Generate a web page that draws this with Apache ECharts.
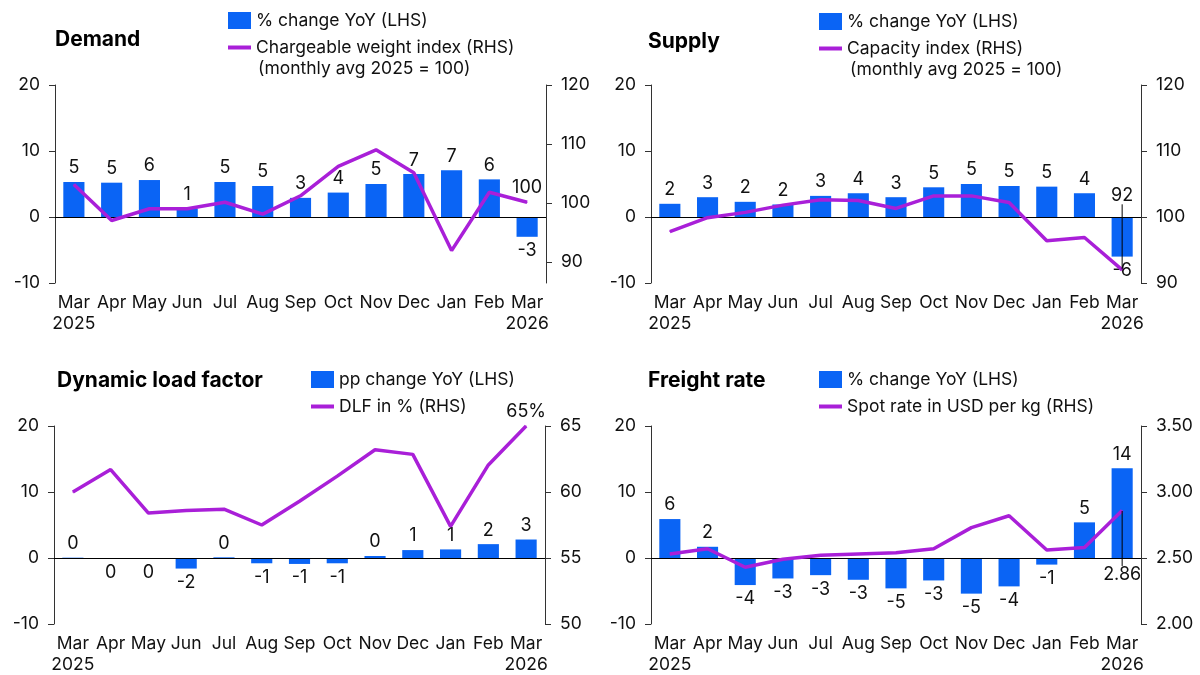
<!DOCTYPE html>
<html><head><meta charset="utf-8">
<script src="https://cdn.jsdelivr.net/npm/echarts@6/dist/echarts.min.js"></script>
<style>html,body{margin:0;padding:0;background:#fff}#c{width:1200px;height:675px}</style>
</head><body><div id="c"></div>
<script>
// ---- data ----
const categories = ['Mar\n2025','Apr','May','Jun','Jul','Aug','Sep','Oct','Nov','Dec','Jan','Feb','Mar\n2026'];

const demandYoY   = [5.3, 5.2, 5.6, 1.3, 5.3, 4.7, 2.9, 3.7, 5.0, 6.5, 7.1, 5.7, -3.0];
const demandIndex = [103.1, 97.0, 99.0, 99.0, 100.1, 98.1, 101.2, 106.2, 109.0, 105.1, 91.9, 101.8, 100.1];

const supplyYoY   = [2.0, 3.0, 2.3, 1.9, 3.2, 3.6, 3.0, 4.5, 5.0, 4.7, 4.6, 3.6, -6.0];
const supplyIndex = [97.8, 99.9, 100.7, 101.8, 102.6, 102.5, 101.3, 103.2, 103.2, 102.2, 96.4, 96.9, 92.0];

const dlfYoY  = [0.05, -0.05, -0.05, -1.6, 0.1, -0.8, -0.9, -0.8, 0.3, 1.2, 1.3, 2.1, 2.8];
const dlfRate = [60.0, 61.7, 58.4, 58.6, 58.7, 57.5, 59.3, 61.2, 63.2, 62.85, 57.4, 62.05, 65.0];

const freightYoY  = [5.9, 1.7, -4.1, -3.1, -2.6, -3.3, -4.6, -3.4, -5.4, -4.3, -1.0, 5.4, 13.6];
const freightRate = [2.53, 2.57, 2.43, 2.49, 2.52, 2.53, 2.54, 2.57, 2.73, 2.82, 2.56, 2.58, 2.86];

const leftTicks = [-10, 0, 10, 20];
const demandRightTicks  = [90, 100, 110, 120];
const supplyRightTicks  = [90, 100, 110, 120];
const dlfRightTicks     = [50, 55, 60, 65];
const freightRightTicks = [2.0, 2.5, 3.0, 3.5];

const titles = ['Demand', 'Supply', 'Dynamic load factor', 'Freight rate'];
const barNames  = ['% change YoY (LHS)', '% change YoY (LHS)', 'pp change YoY (LHS)', '% change YoY (LHS)'];
const lineNames = ['Chargeable weight index (RHS)', 'Capacity index (RHS)', 'DLF in % (RHS)', 'Spot rate in USD per kg (RHS)'];
const subNotes  = ['(monthly avg 2025 = 100)', '(monthly avg 2025 = 100)', '', ''];

// ---- styling / layout ----
const FONT = 'Inter';
const BLUE = '#0A64F5';
const PURPLE = '#A91FD8';
const TXT = '#111111';
const AX = '#333333';

const grids = [
  {left: 55,  top: 85,  width: 491, height: 198},
  {left: 651, top: 85,  width: 490, height: 198},
  {left: 54,  top: 426, width: 491, height: 198},
  {left: 651, top: 426, width: 490, height: 198}
];
const titlePos  = [[55, 29], [648, 31], [57, 370], [648, 370]];
const legendPos = [[228, 11, 38], [819, 12, 39], [311, 370, 397], [819, 370, 397]];
const subPos    = [[258, 60], [850, 61]];

function roundLabel(v) {
  const r = Math.sign(v) * Math.round(Math.abs(v));
  return String(r === 0 ? 0 : r);
}

const panels = [
  {yoy: demandYoY, line: demandIndex, rMin: 86.4, rMax: 120, rTicks: demandRightTicks,
   rFmt: v => String(v), endFmt: v => String(Math.round(v)), endPos: 'top', endDy: 0},
  {yoy: supplyYoY, line: supplyIndex, rMin: 90, rMax: 120, rTicks: supplyRightTicks,
   rFmt: v => String(v), endFmt: v => String(Math.round(v)), endPos: 'top', endDy: -60},
  {yoy: dlfYoY, line: dlfRate, rMin: 50, rMax: 65, rTicks: dlfRightTicks,
   rFmt: v => String(v), endFmt: v => Math.round(v) + '%', endPos: 'top', endDy: 0},
  {yoy: freightYoY, line: freightRate, rMin: 2.0, rMax: 3.5, rTicks: freightRightTicks,
   rFmt: v => Number(v).toFixed(2), endFmt: v => Number(v).toFixed(2), endPos: 'bottom', endDy: 50}
];

const option = {
  animation: false,
  backgroundColor: '#fff',
  textStyle: {fontFamily: FONT, color: TXT},
  grid: grids,
  title: [],
  legend: [],
  xAxis: [],
  yAxis: [],
  series: []
};

panels.forEach((p, i) => {
  option.title.push({
    text: titles[i], left: titlePos[i][0], top: titlePos[i][1], padding: 0,
    textStyle: {fontFamily: FONT, fontSize: 21, fontWeight: 'bold', color: '#000'}
  });
  if (subNotes[i]) {
    option.title.push({
      text: subNotes[i], left: subPos[i][0], top: subPos[i][1], padding: 0,
      textStyle: {fontFamily: FONT, fontSize: 17.5, fontWeight: 'normal', color: TXT}
    });
  }
  const legText = {fontFamily: FONT, fontSize: 17.5, color: TXT, lineHeight: 19};
  option.legend.push({
    data: [barNames[i]], left: legendPos[i][0], top: legendPos[i][1], padding: 0,
    itemWidth: 23, itemHeight: 17, icon: 'rect', selectedMode: false, textStyle: legText
  });
  option.legend.push({
    data: [lineNames[i]], left: legendPos[i][0], top: legendPos[i][2], padding: 0,
    itemWidth: 23, itemHeight: 4, icon: 'rect', selectedMode: false, textStyle: legText
  });

  option.xAxis.push({
    type: 'category', gridIndex: i, data: categories, boundaryGap: true,
    axisLine: {show: false}, axisTick: {show: false}, splitLine: {show: false},
    axisLabel: {interval: 0, fontFamily: FONT, fontSize: 17.5, lineHeight: 21, color: TXT, margin: 9}
  });
  option.yAxis.push({
    type: 'value', gridIndex: i, position: 'left',
    min: leftTicks[0], max: leftTicks[leftTicks.length - 1], interval: 10,
    axisLine: {show: true, lineStyle: {color: AX, width: 1}},
    axisTick: {show: true, length: 6, lineStyle: {color: AX}},
    splitLine: {show: false},
    axisLabel: {fontFamily: FONT, fontSize: 17.5, color: TXT, margin: 15}
  });
  option.yAxis.push({
    type: 'value', gridIndex: i, position: 'right',
    min: p.rMin, max: p.rMax,
    axisLine: {show: true, lineStyle: {color: AX, width: 1}},
    axisTick: {show: true, length: 6, lineStyle: {color: AX}, customValues: p.rTicks},
    splitLine: {show: false},
    axisLabel: {fontFamily: FONT, fontSize: 17.5, color: TXT, margin: 15,
      customValues: p.rTicks, formatter: p.rFmt}
  });

  option.series.push({
    type: 'bar', name: barNames[i], xAxisIndex: i, yAxisIndex: 2 * i,
    barWidth: '56%',
    itemStyle: {color: BLUE},
    data: p.yoy.map(v => ({value: v, label: {position: v < 0 ? 'bottom' : 'top'}})),
    label: {show: true, fontFamily: FONT, fontSize: 18, color: TXT, distance: 5,
      formatter: q => roundLabel(q.value)},
    markLine: {
      silent: true, symbol: 'none', label: {show: false},
      lineStyle: {color: '#000', width: 1, type: 'solid'},
      emphasis: {disabled: true},
      data: [{yAxis: 0}]
    },
    z: 2
  });

  const n = p.line.length;
  option.series.push({
    type: 'line', name: lineNames[i], xAxisIndex: i, yAxisIndex: 2 * i + 1,
    symbol: 'circle', symbolSize: 1, showSymbol: true,
    lineStyle: {color: PURPLE, width: 3.5},
    itemStyle: {color: PURPLE},
    data: p.line.map((v, k) => k === n - 1
      ? {value: v, label: {show: true, position: p.endPos, distance: 5,
          fontFamily: FONT, fontSize: 18, color: TXT, formatter: q => p.endFmt(q.value)}}
      : {value: v}),
    label: {show: false},
    labelLine: {show: p.endDy !== 0, lineStyle: {color: '#000', width: 1}},
    labelLayout: p.endDy !== 0 ? {dy: p.endDy} : null,
    z: 5
  });
});

const chart = echarts.init(document.getElementById('c'), null, {renderer: 'canvas'});
chart.setOption(option);
</script>
</body></html>
